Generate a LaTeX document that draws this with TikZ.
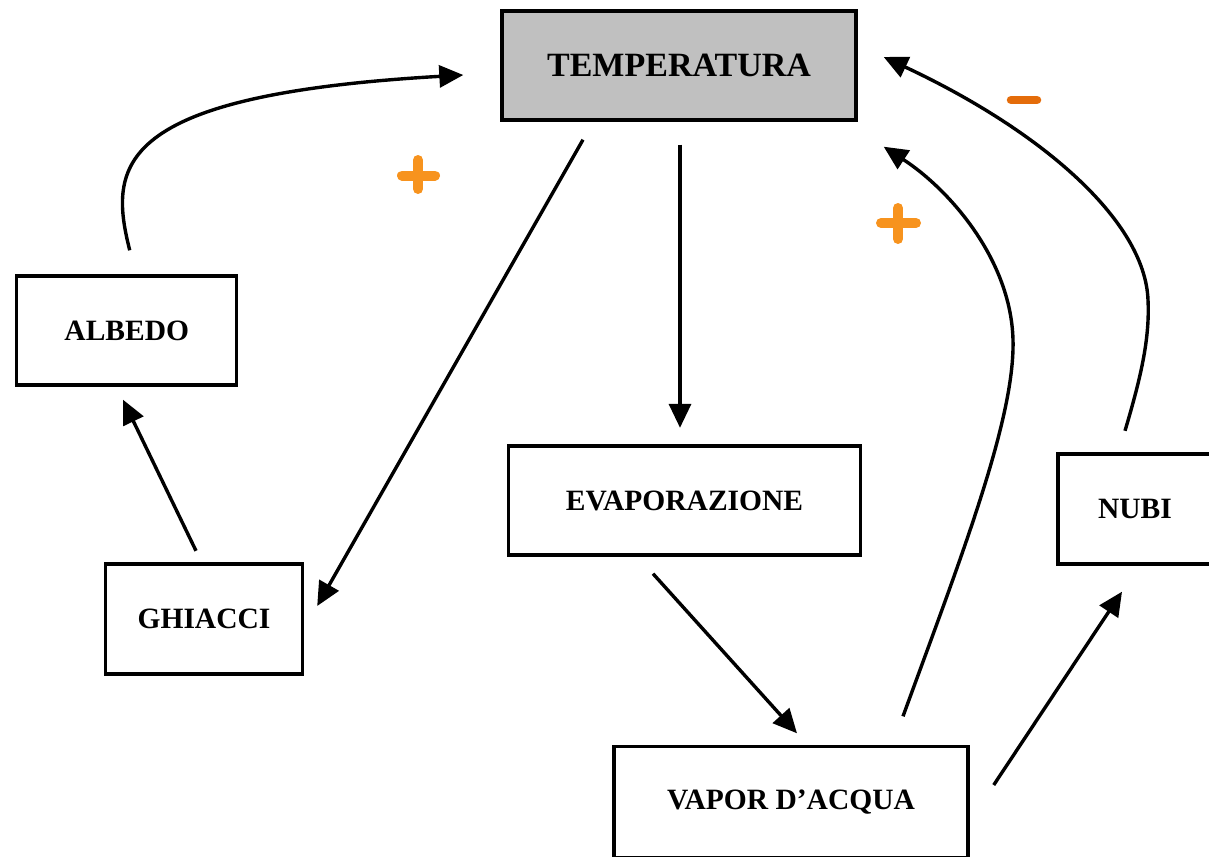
\documentclass[tikz,border=0pt]{standalone}
\usepackage{fontspec}
\setmainfont{Liberation Serif}
\usetikzlibrary{arrows.meta,calc}
\definecolor{boxgray}{RGB}{192,192,192}
\definecolor{plusorange}{RGB}{247,147,30}
\definecolor{minusorange}{RGB}{228,108,10}
\tikzset{
  box/.style={draw=black,line width=3.4pt,fill=white,inner sep=0pt,
    font=\fontsize{29.5}{29.5}\selectfont\bfseries},
  link/.style={line width=3.4pt,-{Triangle[length=24pt,width=22pt]}},
  sign/.style={line width=10pt,line cap=round}
}
\begin{document}
\begin{tikzpicture}[x=1pt,y=-1pt]
\useasboundingbox (0,0) rectangle (1209,856);

% boxes
\node[box,fill=boxgray,minimum width=354pt,minimum height=109pt,
  font=\fontsize{34}{34}\selectfont\bfseries] (temp) at (679,65.5) {\raisebox{-3pt}{TEMPERATURA}};
\node[box,minimum width=220pt,minimum height=109pt] (albedo) at (126.75,330.5) {ALBEDO};
\node[box,minimum width=197pt,minimum height=110pt] (ghiacci) at (204,619) {GHIACCI};
\node[box,minimum width=352pt,minimum height=109pt] (evap) at (684.5,500.5) {\raisebox{-2pt}{EVAPORAZIONE}};
\node[box,minimum width=154pt,minimum height=110pt] (nubi) at (1135,509) {NUBI};
\node[box,minimum width=354pt,minimum height=111pt] (vapor) at (791,802) {VAPOR D’ACQUA};

% albedo feeds back on temperature
\draw[link] ([xshift=3pt,yshift=24pt]albedo.north)
  .. controls (108,165) and (115,95) .. ([xshift=-37pt,yshift=-9.5pt]temp.west);
% temperature melts the ice
\draw[link] ([xshift=-96pt,yshift=-18pt]temp.south) -- ([xshift=13pt,yshift=13pt]ghiacci.east);
% ice sets the albedo
\draw[link] ([xshift=-8pt,yshift=11.5pt]ghiacci.north) -- ([xshift=-3.75pt,yshift=-13pt]albedo.south);
% temperature drives evaporation
\draw[link] ([xshift=1pt,yshift=-23pt]temp.south) -- ([xshift=-4.5pt,yshift=16.5pt]evap.north);
% evaporation gives water vapour
\draw[link] ([xshift=-31.5pt,yshift=-17pt]evap.south) -- ([xshift=6pt,yshift=11.5pt]vapor.north);
% water vapour warms (greenhouse)
\draw[link] ([xshift=112pt,yshift=28.5pt]vapor.north)
  .. controls (960,560) and (1015,420) .. (1013,340)
  .. controls (1011,260) and (950,190) .. ([xshift=26pt,yshift=-25pt]temp.south east);
% water vapour forms clouds
\draw[link] ([xshift=24pt,yshift=17pt]vapor.east) -- ([xshift=-13pt,yshift=-26pt]nubi.south);
% clouds cool
\draw[link] ([xshift=-10pt,yshift=21.5pt]nubi.north)
  .. controls (1140,380) and (1150,340) .. (1148,300)
  .. controls (1145,220) and (1040,130) .. ([xshift=26pt,yshift=8.5pt]temp.east);

% feedback signs
\draw[sign,plusorange] (402,175.5) -- (435,175.5) (418,160) -- (418,189);
\draw[sign,plusorange] (881,223) -- (916,223) (898,208) -- (898,239);
\draw[sign,minusorange,line width=8.5pt] (1011,100) -- (1037,100);
\end{tikzpicture}
\end{document}
